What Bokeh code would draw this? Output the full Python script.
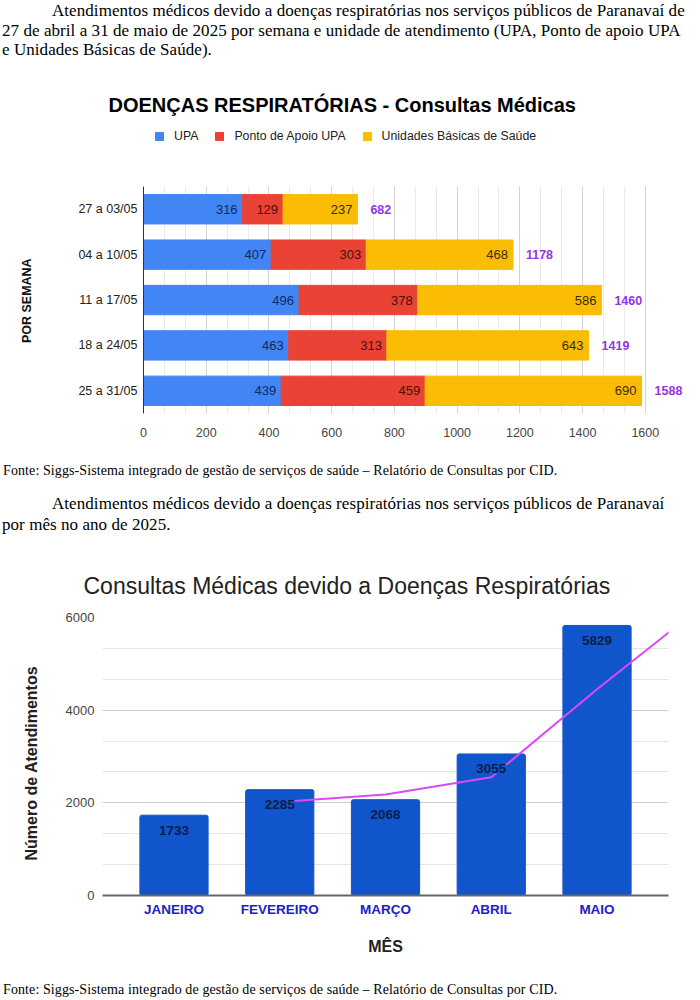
import pandas as pd
from bokeh.plotting import figure
from bokeh.models import (ColumnDataSource, Range1d, FixedTicker, BoxAnnotation,
                          SingleIntervalTicker, LabelSet, Legend, LegendItem, Div)
from bokeh.layouts import column
from bokeh.core.properties import value
from bokeh.embed import file_html
from bokeh.resources import INLINE

# ---------------- texts ----------------
para1 = ["Atendimentos médicos devido a doenças respiratórias nos serviços públicos de Paranavaí de",
         "27 de abril a 31 de maio de 2025 por semana e unidade de atendimento (UPA, Ponto de apoio UPA",
         "e Unidades Básicas de Saúde)."]
para2 = ["Atendimentos médicos devido a doenças respiratórias nos serviços públicos de Paranavaí",
         "por mês no ano de 2025."]
fonte = "Fonte: Siggs-Sistema integrado de gestão de serviços de saúde – Relatório de Consultas por CID."

# ---------------- chart 1 data ----------------
title1 = "DOENÇAS RESPIRATÓRIAS - Consultas Médicas"
weeks = ["27 a 03/05", "04 a 10/05", "11 a 17/05", "18 a 24/05", "25 a 31/05"]
upa = [316, 407, 496, 463, 439]
apoio = [129, 303, 378, 313, 459]
ubs = [237, 468, 586, 643, 690]
totals = [682, 1178, 1460, 1419, 1588]
series_names = ["UPA", "Ponto de Apoio UPA", "Unidades Básicas de Saúde"]
series_colors = ["#4285f4", "#ea4335", "#fbbc04"]
label_colors = ["#102a5c", "#4a0d08", "#3a2c00"]
x1_ticks = [0, 200, 400, 600, 800, 1000, 1200, 1400, 1600]
y1_label = "POR SEMANA"

# ---------------- chart 2 data ----------------
title2 = "Consultas Médicas devido a Doenças Respiratórias"
months = ["JANEIRO", "FEVEREIRO", "MARÇO", "ABRIL", "MAIO"]
consultas = [1733, 2285, 2068, 3055, 5829]
trend_pos = [1, 2, 3, 4, 5]
trend_vals = [2020, 2180, 2550, 4450, 6260]
y2_label = "Número de Atendimentos"
x2_label = "MÊS"

SANS = "Liberation Sans"
SERIF = "'Liberation Serif', 'Times New Roman', serif"

# ================= paragraph 1 =================
div1 = Div(width=700, height=62, margin=0, text=(
    f'<div style="font-family:{SERIF};font-size:17px;letter-spacing:0.06px;line-height:19.5px;'
    f'color:#000;white-space:nowrap;padding:1px 0 0 2px;text-indent:50px;">'
    + "<br>".join(para1) + "</div>"))

# ================= chart 1 =================
n = len(weeks)
df = pd.DataFrame({"week": weeks, "upa": upa, "apoio": apoio, "ubs": ubs, "total": totals})
df["ypos"] = list(range(n))[::-1]          # first week on top
df["upa_end"] = df["upa"]
df["apoio_end"] = df["upa"] + df["apoio"]
df["ubs_end"] = df["apoio_end"] + df["ubs"]
for c in ["upa", "apoio", "ubs", "total"]:
    df[c + "_txt"] = df[c].astype(str)
src1 = ColumnDataSource(df)

p1 = figure(width=700, height=386, y_range=Range1d(-0.5, n + 1.0),
            x_range=Range1d(0, 1760), output_backend="svg", toolbar_location=None,
            min_border_left=143, min_border_right=5, min_border_top=56, min_border_bottom=35,
            title=title1)
p1.frame_align = False
p1.outline_line_color = None
p1.title.align = "left"
p1.title.offset = -35
p1.title.standoff = 6
p1.title.text_font = SANS
p1.title.text_font_size = "20px"
p1.title.text_font_style = "bold"
p1.title.text_color = "#000000"

stack_cols = ["upa", "apoio", "ubs"]
rs = p1.hbar_stack(stack_cols, y="ypos", height=0.647, source=src1,
                   fill_color=series_colors, line_color=series_colors)

minor1 = [i * 200 / 3 for i in range(1, 24) if i % 3]
t1 = FixedTicker(ticks=x1_ticks, minor_ticks=minor1)
p1.xaxis.ticker = t1
p1.xgrid.ticker = t1
p1.xgrid.grid_line_color = "#d4d4d4"
p1.xgrid.minor_grid_line_color = "#ebebeb"
p1.ygrid.visible = False
# header area of the frame (title/legend zone) kept clean of grid lines
p1.add_layout(BoxAnnotation(bottom=n - 0.5, fill_color="white", fill_alpha=1,
                            line_color=None, level="underlay"))

p1.xaxis.axis_line_color = None
p1.xaxis.major_tick_line_color = None
p1.xaxis.minor_tick_line_color = None
p1.xaxis.major_tick_out = 0
p1.xaxis.minor_tick_out = 0
p1.xaxis.major_label_standoff = 14
p1.xaxis.major_label_text_font = SANS
p1.xaxis.major_label_text_font_size = "12.5px"
p1.xaxis.major_label_text_color = "#444444"

p1.yaxis.ticker = FixedTicker(ticks=list(df["ypos"]))
p1.yaxis.major_label_overrides = {int(y): w for y, w in zip(df["ypos"], df["week"])}
p1.yaxis.bounds = (-0.5, n - 0.5)
p1.yaxis.axis_line_color = "#333333"
p1.yaxis.major_tick_line_color = None
p1.yaxis.minor_tick_line_color = None
p1.yaxis.major_tick_out = 0
p1.yaxis.minor_tick_out = 0
p1.yaxis.major_label_standoff = 6
p1.yaxis.major_label_text_font = SANS
p1.yaxis.major_label_text_font_size = "12.5px"
p1.yaxis.major_label_text_color = "#222222"
# trailing no-break spaces keep the visible label centred on the bar rows
p1.yaxis.axis_label = y1_label + "\u00a0" * 20
p1.yaxis.axis_label_text_font = SANS
p1.yaxis.axis_label_text_font_size = "12.5px"
p1.yaxis.axis_label_text_font_style = "bold"
p1.yaxis.axis_label_text_color = "#111111"
p1.yaxis.axis_label_standoff = 41

for col, lc in zip(stack_cols, label_colors):
    p1.add_layout(LabelSet(x=col + "_end", y="ypos", text=col + "_txt", source=src1,
                           text_align="right", text_baseline="middle", x_offset=-5,
                           text_font=value(SANS), text_font_size="13px", text_color=lc))
p1.add_layout(LabelSet(x="ubs_end", y="ypos", text="total_txt", source=src1,
                       text_align="left", text_baseline="middle", x_offset=13,
                       text_font=value(SANS), text_font_size="12.5px", text_font_style="bold",
                       text_color="#9334e6"))

legend = Legend(items=[LegendItem(label=nm, renderers=[r]) for nm, r in zip(series_names, rs)],
                orientation="horizontal", location=(11, 270), glyph_width=10, glyph_height=10,
                label_height=10, label_standoff=10, spacing=16, padding=0, margin=0,
                border_line_color=None, background_fill_alpha=0,
                label_text_font=SANS, label_text_font_size="12.3px", label_text_color="#222222")
p1.add_layout(legend)

# ================= fonte + paragraph 2 =================
div2 = Div(width=700, height=100, margin=0, text=(
    f'<div style="font-family:{SERIF};font-size:14px;letter-spacing:0.1px;line-height:15px;'
    f'color:#000;white-space:nowrap;padding:15px 0 0 3px;">{fonte}</div>'
    f'<div style="font-family:{SERIF};font-size:17px;letter-spacing:0.06px;line-height:20.5px;'
    f'color:#000;white-space:nowrap;padding:16px 0 0 2px;text-indent:50px;">'
    + "<br>".join(para2) + "</div>"))

# ================= chart 2 =================
src2 = ColumnDataSource(dict(pos=list(range(len(months))), val=consultas,
                             txt=[str(v) for v in consultas]))
p2 = figure(width=700, height=427, x_range=Range1d(-0.676, 4.676), y_range=Range1d(0, 6000),
            output_backend="svg", toolbar_location=None,
            min_border_left=102, min_border_right=32, min_border_top=69, min_border_bottom=80,
            title=title2)
p2.frame_align = False
p2.outline_line_color = None
p2.title.align = "left"
p2.title.offset = -19
p2.title.standoff = 38
p2.title.text_font = SANS
p2.title.text_font_size = "23px"
p2.title.text_font_style = "normal"
p2.title.text_color = "#222222"

p2.vbar(x="pos", top="val", width=0.645, source=src2, fill_color="#1155cc",
        line_color="#1155cc", border_radius=2)
p2.line(trend_pos, trend_vals, line_color="#db4af5", line_width=2)
p2.add_layout(LabelSet(x="pos", y="val", text="txt", source=src2, y_offset=-15,
                       text_align="center", text_baseline="middle", text_font=value(SANS),
                       text_font_size="13.5px", text_font_style="bold", text_color="#0a1d4f",
                       background_fill_color="#1155cc"))

t2 = SingleIntervalTicker(interval=2000, num_minor_ticks=3)
p2.yaxis.ticker = t2
p2.ygrid.ticker = t2
p2.ygrid.grid_line_color = "#cfcfcf"
p2.ygrid.minor_grid_line_color = "#e4e4e4"
p2.xgrid.visible = False
p2.yaxis.axis_line_color = None
p2.yaxis.major_tick_line_color = None
p2.yaxis.minor_tick_line_color = None
p2.yaxis.major_tick_out = 0
p2.yaxis.minor_tick_out = 0
p2.yaxis.major_label_standoff = 8
p2.yaxis.major_label_text_font = SANS
p2.yaxis.major_label_text_font_size = "13px"
p2.yaxis.major_label_text_color = "#444444"
p2.yaxis.axis_label = y2_label + "\u00a0" * 3
p2.yaxis.axis_label_text_font = SANS
p2.yaxis.axis_label_text_font_size = "16px"
p2.yaxis.axis_label_text_font_style = "bold"
p2.yaxis.axis_label_text_color = "#222222"
p2.yaxis.axis_label_standoff = 23

p2.xaxis.ticker = FixedTicker(ticks=list(range(len(months))))
p2.xaxis.major_label_overrides = {i: m for i, m in enumerate(months)}
p2.xaxis.axis_line_color = "#666666"
p2.xaxis.axis_line_width = 2
p2.xaxis.major_tick_line_color = None
p2.xaxis.minor_tick_line_color = None
p2.xaxis.major_tick_out = 0
p2.xaxis.minor_tick_out = 0
p2.xaxis.major_label_standoff = 6
p2.xaxis.major_label_text_font = SANS
p2.xaxis.major_label_text_font_size = "13.5px"
p2.xaxis.major_label_text_font_style = "bold"
p2.xaxis.major_label_text_color = "#2020cc"
p2.xaxis.axis_label = x2_label
p2.xaxis.axis_label_text_font = SANS
p2.xaxis.axis_label_text_font_size = "16px"
p2.xaxis.axis_label_text_font_style = "bold"
p2.xaxis.axis_label_text_color = "#222222"
p2.xaxis.axis_label_standoff = 18

# ================= fonte 2 =================
div3 = Div(width=700, height=22, margin=0, text=(
    f'<div style="font-family:{SERIF};font-size:14px;letter-spacing:0.1px;line-height:15px;'
    f'color:#000;white-space:nowrap;padding:7px 0 0 3px;">{fonte}</div>'))

layout = column(div1, p1, div2, p2, div3, spacing=0)
open("out.html", "w").write(file_html(layout, INLINE))
